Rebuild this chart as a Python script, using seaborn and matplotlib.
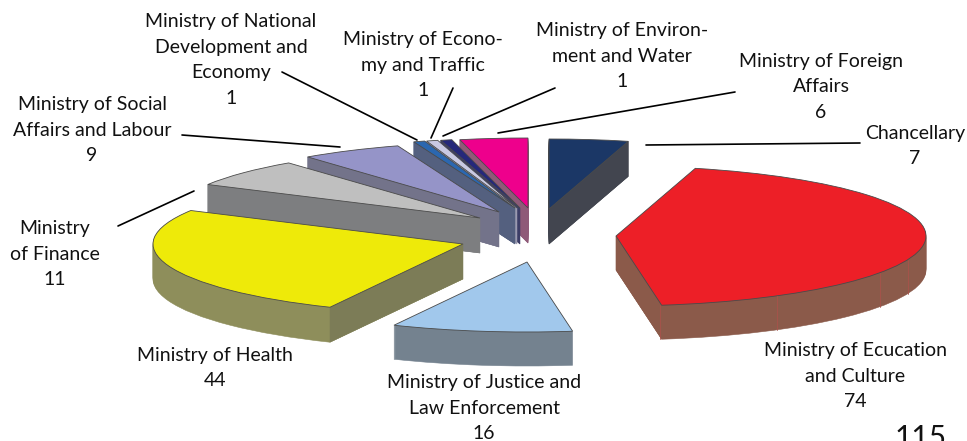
import math
import matplotlib
matplotlib.use("Agg")
import matplotlib.pyplot as plt
import seaborn as sns

# ---- data ----
names = ["Chancellary", "Ministry of Ecucation\nand Culture", "Ministry of Justice and\nLaw Enforcement",
         "Ministry of Health", "Ministry\nof Finance", "Ministry of Social\nAffairs and Labour",
         "Ministry of National\nDevelopment and\nEconomy", "Ministry of Econo-\nmy and Traffic",
         "Ministry of Environ-\nment and Water", "Ministry of Foreign\nAffairs"]
values = [7, 74, 16, 44, 11, 9, 1, 1, 1, 6]
corner_note = "115"

# ---- styles ----
top_colors = ["#1b3766", "#ed1f27", "#a1c8ec", "#eeea09", "#bfbfbf", "#9594c8", "#2b67b0", "#c9c9e3", "#25287a", "#ee008c"]
rim_colors = ["#42454f", "#8b5a4a", "#74828f", "#8e8e5b", "#7d7e80", "#73738a", "#54607f", "#9a9ab0", "#3c3d66", "#8f5a78"]
cut_colors = ["#42454f", "#8b5a4a", "#74828f", "#7c7c57", "#7d7e80", "#73738a", "#54607f", "#9a9ab0", "#3c3d66", "#8f5a78"]
sns.set_theme(style="white")
top_palette = sns.color_palette(top_colors)
plt.rcParams["font.family"] = ["Lato", "DejaVu Sans"]

# ---- layout, pixels ----
W, H = 967, 441
RX, RY = 310, 70
apex_px = [(549, 209), (616, 236), (527, 262), (463, 244), (480, 218), (499, 212),
           (515, 208), (517, 208), (520, 208), (528, 208)]
depth_px = [35, 34, 34, 35, 35, 35, 36, 36, 36, 35]
draw_order = [9, 8, 7, 6, 5, 4, 3, 2, 0, 1]
text_px = [(915, 146), (855, 376), (484, 408), (215, 368), (55, 254), (92, 130),
           (231, 60), (423, 65), (622, 56), (821, 87)]
leaders_px = [((646, 145), (860, 143)), ((194, 191), (118, 226)), ((340, 147), (182, 135)),
              ((417, 140), (282, 72)), ((431, 138), (453, 88)), ((443, 136), (555, 88)),
              ((498, 133), (735, 92))]
seam_x_px = [660, 777, 880, 908]

fx = lambda px: px / RX
fy = lambda py: (H - py) / RY

fig = plt.figure(figsize=(W / 100, H / 100), dpi=100)
ax = fig.add_axes([0, 0, 1, 1])

total = sum(values)
starts, a = [], 90.0
for v in values:
    starts.append(a)
    a -= 360.0 * v / total


def wedge(i, dy, color, edge, lw):
    cx, cy = apex_px[i]
    ax.pie([values[i] / total], normalize=False, startangle=starts[i], counterclock=False,
           center=(fx(cx), fy(cy + dy)), radius=1, colors=[color],
           wedgeprops=dict(edgecolor=edge, linewidth=lw))


for i in draw_order:
    cx, cy = apex_px[i]
    d = depth_px[i]
    for dy in range(d, 0, -1):
        wedge(i, dy, rim_colors[i], rim_colors[i], 0.4)
    a1, a2 = starts[i], starts[i] - 360.0 * values[i] / total
    for ang, front in ((a1, math.cos(math.radians(a1)) < -1e-6), (a2, math.cos(math.radians(a2)) > 1e-6)):
        if front:
            ex = fx(cx) + math.cos(math.radians(ang))
            ey = fy(cy) + math.sin(math.radians(ang))
            ax.fill([fx(cx), ex, ex, fx(cx)], [fy(cy), ey, ey - d / RY, fy(cy + d)],
                    color=cut_colors[i], linewidth=0.3, zorder=1)
    wedge(i, 0, top_palette[i], "#4a4a4a", 0.6)

# keep stacking in drawing order
for z, art in enumerate(ax.patches):
    art.set_zorder(z + 1)

ax.set_aspect("auto")
ax.set_xlim(0, W / RX)
ax.set_ylim(0, H / RY)
ax.axis("off")

# faint seams on the rim of the largest slice
edu = 1
for sx in seam_x_px:
    u = (sx - apex_px[edu][0]) / RX
    y_top = fy(apex_px[edu][1]) - math.sqrt(max(0.0, 1 - u * u))
    ax.plot([fx(sx), fx(sx)], [y_top, y_top - depth_px[edu] / RY], color="#a8524a", lw=0.6, zorder=4000)

for (p, q) in leaders_px:
    ax.plot([fx(p[0]), fx(q[0])], [fy(p[1]), fy(q[1])], color="black", lw=1.2, zorder=5000)

for name, v, (tx, ty) in zip(names, values, text_px):
    ax.text(fx(tx), fy(ty), f"{name}\n{v}", ha="center", va="center", fontsize=14,
            color="#111111", linespacing=1.64, zorder=5001)
ax.text(fx(921), fy(438), corner_note, ha="center", va="center", fontsize=21.5, color="#111111", zorder=5001)

fig.savefig("out.png", dpi=100, facecolor="white")
